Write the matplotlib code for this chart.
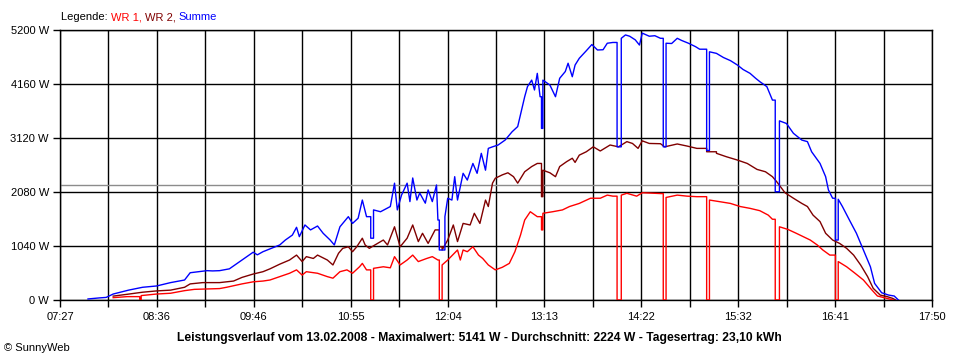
import numpy as np
import matplotlib
matplotlib.use("Agg")
import matplotlib.pyplot as plt

plt.rcParams['font.family'] = ['Liberation Sans', 'DejaVu Sans']

# Zeitachse (Minuten seit Mitternacht) und Beschriftung
t_start, t_end = "07:27", "17:50"
tick_labels = ["07:27", "08:36", "09:46", "10:55", "12:04",
               "13:13", "14:22", "15:32", "16:41", "17:50"]
y_ticks = [0, 1040, 2080, 3120, 4160, 5200]
average = 2224

# kurze Ausfaelle (Beginn), an denen die Kurve senkrecht abfaellt
dip_times = ["08:24", "11:09", "11:58", "13:11", "14:05", "14:38", "15:09", "15:58", "16:41"]

# WR 1 (rot)
wr1_time = ["08:05", "08:15", "08:24", "08:25", "08:36", "08:46", "08:56", "09:03", "09:21", "09:26",
            "09:37", "09:45", "09:52", "09:57", "10:04", "10:11", "10:16", "10:20", "10:23", "10:31",
            "10:38", "10:42", "10:47", "10:52", "10:56", "11:01", "11:03", "11:06", "11:09", "11:11",
            "11:18", "11:23", "11:26", "11:30", "11:35", "11:39", "11:43", "11:49", "11:53", "11:57",
            "11:58", "12:00", "12:04", "12:11", "12:13", "12:15", "12:18", "12:22", "12:26", "12:29",
            "12:33", "12:38", "12:43", "12:48", "12:52", "12:56", "12:59", "13:03", "13:08", "13:11",
            "13:12", "13:19", "13:26", "13:31", "13:38", "13:46", "13:53", "13:58", "14:02", "14:05",
            "14:08", "14:12", "14:19", "14:23", "14:28", "14:36", "14:38", "14:40", "14:48", "14:55",
            "15:02", "15:09", "15:11", "15:18", "15:26", "15:33", "15:40", "15:47", "15:53", "15:56",
            "15:58", "16:01", "16:07", "16:13", "16:23", "16:28", "16:32", "16:37", "16:41", "16:43",
            "16:49", "16:55", "17:01", "17:07", "17:11", "17:18", "17:22"]
wr1_watt = [45, 65, 0, 85, 115, 130, 180, 205, 220, 245,
            310, 350, 365, 385, 450, 515, 580, 480, 545, 515,
            450, 420, 545, 580, 515, 640, 705, 580, 0, 610,
            640, 620, 835, 675, 770, 865, 740, 800, 835, 770,
            0, 675, 770, 963, 770, 963, 930, 1025, 865, 800,
            675, 580, 630, 705, 930, 1250, 1540, 1700, 1605, 1350,
            1670, 1700, 1735, 1800, 1860, 1960, 1960, 2020, 2000, 0,
            2020, 2055, 2000, 2065, 2060, 2050, 0, 1975, 2020, 2000,
            1990, 0, 1925, 1895, 1860, 1800, 1765, 1720, 1635, 1555,
            0, 1410, 1360, 1285, 1155, 1060, 963, 865, 0, 740,
            640, 515, 385, 195, 77, 30, 0]

# WR 2 (dunkelrot)
wr2_time = ["08:05", "08:15", "08:26", "08:36", "08:46", "08:56", "09:00", "09:09", "09:21", "09:31",
            "09:37", "09:45", "09:52", "09:57", "10:04", "10:11", "10:16", "10:20", "10:23", "10:28",
            "10:31", "10:38", "10:42", "10:46", "10:49", "10:53", "10:56", "10:59", "11:03", "11:05",
            "11:08", "11:12", "11:18", "11:21", "11:26", "11:30", "11:35", "11:39", "11:43", "11:46",
            "11:50", "11:55", "11:58", "12:00", "12:04", "12:08", "12:11", "12:15", "12:20", "12:23",
            "12:27", "12:31", "12:33", "12:36", "12:38", "12:43", "12:47", "12:51", "12:54", "12:59",
            "13:04", "13:08", "13:11", "13:12", "13:17", "13:21", "13:24", "13:29", "13:33", "13:35",
            "13:38", "13:43", "13:48", "13:53", "14:00", "14:06", "14:12", "14:16", "14:20", "14:23",
            "14:28", "14:36", "14:39", "14:48", "14:55", "15:02", "15:09", "15:16", "15:23", "15:31",
            "15:38", "15:45", "15:51", "15:56", "15:59", "16:05", "16:11", "16:17", "16:21", "16:25",
            "16:30", "16:34", "16:39", "16:44", "16:49", "16:54", "16:59", "17:04", "17:08", "17:13",
            "17:18", "17:22", "17:24"]
wr2_watt = [75, 110, 150, 175, 190, 245, 310, 335, 335, 365,
            435, 500, 545, 600, 690, 770, 865, 740, 835, 800,
            865, 770, 675, 900, 995, 1025, 930, 1025, 1190, 1060,
            995, 1060, 1155, 1060, 1410, 1025, 1190, 1445, 1125, 1285,
            1090, 1350, 1025, 963, 1155, 1445, 1125, 1475, 1445, 1670,
            1475, 1925, 1800, 2250, 2345, 2410, 2450, 2375, 2250, 2470,
            2570, 2630, 1990, 2500, 2450, 2375, 2570, 2665, 2730, 2650,
            2790, 2855, 2950, 2870, 2985, 2950, 3050, 3015, 2920, 3065,
            3015, 3010, 2950, 3005, 2965, 2920, 2855, 2825, 2760, 2695,
            2630, 2515, 2470, 2375, 2280, 2065, 1960, 1860, 1800, 1635,
            1510, 1285, 1155, 1090, 995, 865, 675, 450, 225, 95,
            65, 30, 0]

# Summe (blau)
sum_time = ["07:47", "07:55", "08:00", "08:05", "08:16", "08:26", "08:36", "08:46", "08:56", "09:00",
            "09:12", "09:16", "09:21", "09:28", "09:32", "09:37", "09:45", "09:48", "09:52", "09:57",
            "10:04", "10:08", "10:13", "10:16", "10:18", "10:22", "10:26", "10:31", "10:35", "10:40",
            "10:43", "10:47", "10:53", "10:56", "11:00", "11:03", "11:06", "11:09", "11:11", "11:16",
            "11:23", "11:26", "11:28", "11:31", "11:35", "11:37", "11:39", "11:42", "11:44", "11:48",
            "11:50", "11:53", "11:56", "11:57", "11:58", "12:02", "12:04", "12:07", "12:09", "12:11",
            "12:15", "12:18", "12:22", "12:25", "12:28", "12:31", "12:33", "12:36", "12:40", "12:45",
            "12:50", "12:54", "12:57", "12:59", "13:01", "13:04", "13:06", "13:08", "13:10", "13:11",
            "13:12", "13:17", "13:21", "13:24", "13:28", "13:30", "13:33", "13:35", "13:38", "13:43",
            "13:47", "13:51", "13:55", "13:58", "14:02", "14:05", "14:08", "14:11", "14:14", "14:18",
            "14:21", "14:23", "14:28", "14:32", "14:36", "14:38", "14:40", "14:44", "14:48", "14:51",
            "14:56", "15:01", "15:04", "15:09", "15:11", "15:16", "15:21", "15:26", "15:31", "15:35",
            "15:40", "15:44", "15:47", "15:52", "15:54", "15:56", "15:58", "16:01", "16:06", "16:11",
            "16:17", "16:21", "16:24", "16:30", "16:34", "16:36", "16:39", "16:41", "16:43", "16:46",
            "16:51", "16:56", "17:01", "17:06", "17:09", "17:14", "17:19", "17:23", "17:26"]
sum_watt = [20, 40, 50, 115, 190, 245, 270, 335, 385, 525,
            565, 560, 565, 600, 675, 770, 920, 870, 930, 985,
            1060, 1155, 1250, 1400, 1220, 1445, 1350, 1425, 1285, 1155,
            1060, 1410, 1605, 1475, 1575, 1925, 1605, 1190, 1735, 1700,
            1800, 2250, 1735, 2020, 2250, 1895, 2350, 1925, 2060, 1865,
            2120, 1895, 2215, 1540, 963, 1605, 1960, 1925, 2375, 1925,
            2440, 2310, 2630, 2440, 2825, 2500, 2920, 2950, 2985, 3080,
            3240, 3340, 3690, 3915, 4110, 4235, 4045, 4365, 3915, 3305,
            4235, 4140, 3915, 4270, 4400, 4560, 4300, 4525, 4655, 4800,
            4920, 4815, 4820, 4945, 4960, 2950, 5040, 5105, 5080, 5010,
            4910, 5140, 5080, 5090, 5040, 2950, 4945, 4940, 5040, 5000,
            4945, 4880, 4830, 2880, 4780, 4750, 4670, 4610, 4525, 4440,
            4365, 4270, 4205, 4110, 3980, 3850, 2085, 3450, 3400, 3210,
            3080, 3050, 2855, 2630, 2375, 2120, 1960, 1155, 1940, 1800,
            1540, 1285, 963, 640, 320, 140, 95, 77, 0]


def minutes(hhmm):
    h, m = hhmm.split(":")
    return int(h) * 60 + int(m)


def with_drops(times, watts):
    # Linienzug, aber an den Ausfaellen senkrechte Kanten
    tm = [minutes(t) for t in times]
    dips = set(dip_times)
    xs, ys = [], []
    for i, (t, w) in enumerate(zip(tm, watts)):
        if i > 0 and times[i] in dips:
            xs.append(t)
            ys.append(watts[i - 1])
        if i > 0 and times[i - 1] in dips:
            xs.append(t)
            ys.append(watts[i - 1])
        xs.append(t)
        ys.append(w)
    return np.array(xs), np.array(ys)


fig = plt.figure(figsize=(9.6, 3.6), dpi=100)
ax = fig.add_axes([60 / 960, 60 / 360, 872 / 960, 270 / 360])

x0, x1 = minutes(t_start), minutes(t_end)
grid_x = np.linspace(x0, x1, 19)
ax.set_xlim(x0, x1)
ax.set_ylim(0, 5200)
ax.set_xticks(grid_x)
ax.set_xticklabels([tick_labels[i // 2] if i % 2 == 0 else "" for i in range(len(grid_x))])
ax.set_yticks(y_ticks)
ax.set_yticklabels([f"{v} W" for v in y_ticks])
ax.tick_params(direction="out", length=5, width=1, pad=3, labelsize=8, color="black")
ax.tick_params(axis="x", pad=4)
ax.grid(True, color="black", linewidth=1)
ax.set_axisbelow(True)
for s in ax.spines.values():
    s.set_linewidth(1)

ax.axhline(average, color="#8c8c8c", linewidth=1, zorder=1.5)

for times, watts, col in [(wr1_time, wr1_watt, "#ff0000"),
                          (wr2_time, wr2_watt, "#800000"),
                          (sum_time, sum_watt, "#0000ff")]:
    xs, ys = with_drops(times, watts)
    ax.plot(xs, ys, color=col, lw=1, zorder=3)

# Legende oben links, mehrfarbig
fig.canvas.draw()
renderer = fig.canvas.get_renderer()
parts = [("Legende: ", "black"), ("WR 1, ", "#ff0000"), ("WR 2, ", "#800000"), ("Summe", "#0000ff")]
px = 61
for txt, col in parts:
    t = fig.text(px / 960, 1 - 17 / 360, txt, color=col, fontsize=8, va="center", ha="left")
    bb = t.get_window_extent(renderer)
    px += bb.width

fig.text(0.499, 1 - 338 / 360,
         "Leistungsverlauf vom 13.02.2008 - Maximalwert: 5141 W - Durchschnitt: 2224 W - Tagesertrag: 23,10 kWh",
         fontsize=8.75, fontweight="bold", ha="center", va="center")
fig.text(4 / 960, 1 - 348 / 360, "\u00a9 SunnyWeb", fontsize=8, ha="left", va="center")

fig.savefig("out.png", dpi=100)
